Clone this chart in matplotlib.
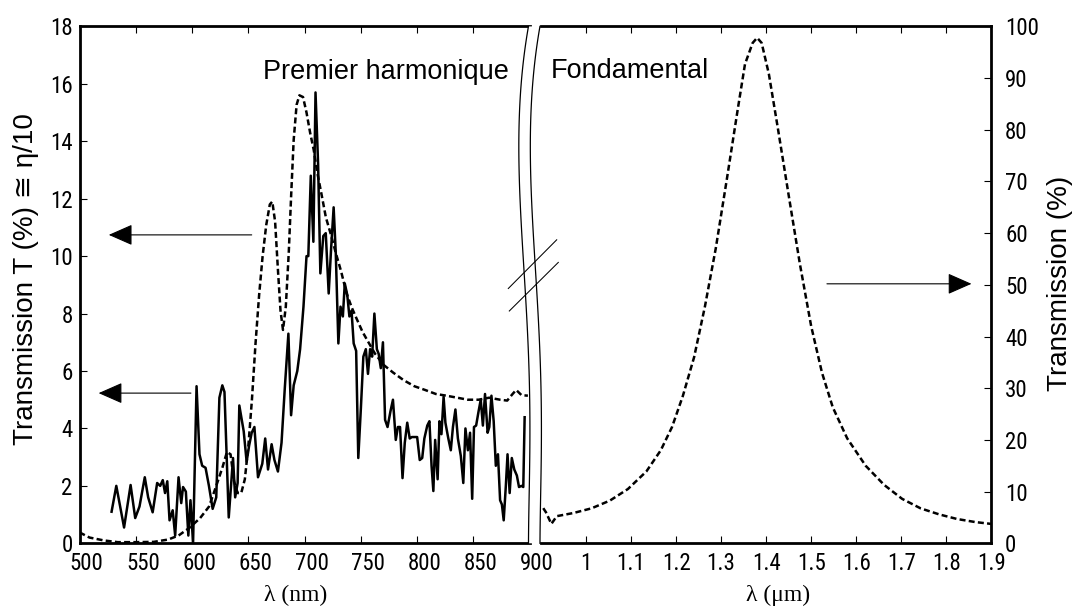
import numpy as np
import matplotlib
matplotlib.use('Agg')
import matplotlib.pyplot as plt
from matplotlib import font_manager
from matplotlib.lines import Line2D
from matplotlib.patches import Polygon
from matplotlib.transforms import ScaledTranslation

# Premier harmonique : mesure (trait plein)
harm_nm = [528.5, 532.7, 535.8, 539.6, 545.4, 549.5, 553.3, 558.0, 561.0, 565.0,
           569.0, 571.7, 574.0, 576.0, 578.0, 580.0, 582.8, 585.0, 588.0, 590.4,
           592.0, 594.5, 596.7, 598.6, 600.9, 604.0, 606.6, 609.0, 612.0, 615.0,
           618.3, 621.5, 624.3, 626.9, 628.8, 632.6, 636.4, 638.3, 640.5, 642.0,
           645.9, 648.5, 650.7, 653.0, 655.4, 658.6, 662.4, 665.0, 667.5, 670.7,
           673.2, 676.3, 679.5, 682.4, 685.6, 688.0, 690.3, 693.5, 696.0, 699.0,
           701.7, 703.3, 705.5, 707.8, 709.7, 712.0, 714.0, 716.6, 718.8, 721.4,
           723.6, 725.8, 727.7, 730.0, 731.9, 734.0, 735.7, 737.9, 739.8, 741.7,
           743.6, 745.8, 747.7, 750.0, 752.2, 754.4, 756.3, 758.2, 760.0, 762.0,
           764.2, 765.8, 767.7, 769.6, 771.5, 773.7, 776.3, 778.5, 781.0, 782.9,
           784.8, 787.0, 789.0, 791.2, 793.4, 795.3, 797.5, 800.0, 802.3, 804.5,
           806.4, 809.0, 810.9, 812.8, 814.4, 816.0, 818.2, 819.8, 821.6, 823.5,
           825.1, 827.7, 829.9, 831.8, 834.0, 836.2, 838.8, 841.0, 842.9, 845.1,
           847.0, 848.9, 850.5, 852.4, 854.6, 856.5, 858.4, 860.3, 862.6, 864.1,
           866.0, 868.0, 869.9, 871.8, 873.7, 875.3, 876.9, 878.8, 880.3, 882.2,
           884.1, 886.3, 888.6, 890.5, 892.7, 894.3, 895.5]
harm_T = [1.1, 2.0, 1.35, 0.55, 2.03, 0.88, 1.28, 2.3, 1.6, 1.08,
          2.1, 2.0, 2.2, 1.75, 2.16, 0.8, 1.15, 0.27, 2.3, 1.4,
          1.96, 1.8, 0.27, 1.5, 0.0, 5.47, 3.1, 2.7, 2.63, 2.0,
          1.2, 1.6, 5.07, 5.5, 5.27, 0.9, 2.97, 1.6, 2.1, 4.8,
          3.9, 2.84, 3.4, 3.85, 4.05, 2.3, 2.77, 3.65, 2.57, 3.45,
          2.9, 2.5, 3.5, 5.4, 7.3, 4.46, 5.5, 6.0, 6.76, 8.24,
          10.0, 10.0, 12.8, 10.5, 15.7, 13.2, 9.4, 10.7, 10.8, 8.7,
          10.3, 11.7, 10.1, 6.96, 8.24, 7.9, 9.05, 8.65, 7.9, 8.1,
          6.96, 6.7, 2.97, 4.7, 6.5, 6.76, 5.9, 6.76, 6.5, 8.0,
          6.76, 6.6, 6.1, 7.0, 4.3, 4.05, 4.6, 5.0, 3.6, 4.05,
          4.05, 2.27, 3.5, 4.2, 3.65, 3.7, 3.7, 3.7, 2.9, 2.97,
          3.65, 4.1, 4.25, 2.7, 1.82, 3.6, 2.23, 4.25, 3.8, 5.1,
          4.2, 3.65, 3.24, 4.05, 4.66, 3.65, 3.04, 2.1, 4.0, 3.24,
          3.85, 1.55, 4.05, 4.1, 4.6, 5.0, 4.1, 5.2, 3.85, 4.05,
          5.14, 4.25, 2.7, 3.1, 1.5, 1.35, 0.8, 2.0, 3.1, 1.75,
          2.97, 2.57, 2.36, 1.96, 2.0, 1.96, 4.39]

# Premier harmonique : calcul (pointillés)
calc_nm = [500, 508.9, 521.6, 534, 550, 566, 578.7, 588, 597.7, 607.2,
           615.1, 621.5, 627, 631, 634.2, 637.3, 640.5, 643.7, 646.9, 650,
           653.2, 656.4, 659.6, 662.7, 665.9, 669.1, 671.3, 673.8, 676.4, 678.6,
           680.8, 683.3, 685.9, 688.1, 690.3, 692.9, 695.4, 698.6, 701.7, 704.9,
           708.1, 711.3, 715, 718.9, 723, 727.8, 732.5, 737.3, 742, 746.8,
           751.5, 756.3, 762.6, 770.6, 778.5, 788, 797.5, 807, 816.6, 826,
           835.6, 845, 854.6, 864, 873.7, 880, 884.8, 888, 892.7, 898.4]
calc_T = [0.38, 0.2, 0.1, 0.04, 0.04, 0.05, 0.13, 0.27, 0.54, 0.88,
          1.28, 2.0, 2.64, 3.18, 3.1, 2.16, 1.75, 1.75, 2.23, 3.38,
          5.0, 6.96, 8.65, 10.0, 11.08, 11.8, 11.9, 11.2, 9.46, 8.1,
          7.43, 8.24, 10.1, 12.16, 14.05, 15.27, 15.6, 15.54, 15.0, 14.3,
          13.7, 12.9, 12.16, 11.35, 10.8, 10.1, 9.46, 8.7, 8.2, 7.77,
          7.36, 7.03, 6.6, 6.2, 5.95, 5.68, 5.47, 5.34, 5.2, 5.14,
          5.07, 5.0, 5.0, 5.07, 5.0, 4.97, 5.2, 5.34, 5.16, 5.14]

# Fondamental (pointillés)
fund_um = [0.905, 0.911, 0.923, 0.935, 0.972, 1.012, 1.053, 1.093, 1.134, 1.166,
           1.191, 1.215, 1.24, 1.264, 1.288, 1.313, 1.337, 1.353, 1.37, 1.38,
           1.39, 1.406, 1.426, 1.451, 1.475, 1.5, 1.524, 1.548, 1.58, 1.621,
           1.662, 1.702, 1.743, 1.784, 1.824, 1.865, 1.9]
fund_T = [6.8, 6.0, 3.75, 5.25, 5.86, 6.76, 8.26, 10.5, 13.9, 18.0,
          22.5, 28.5, 36.0, 45.8, 57.0, 70.6, 84.0, 92.7, 96.8, 97.8,
          96.8, 90.8, 80.3, 66.8, 54.0, 42.0, 33.0, 26.3, 20.3, 15.0,
          11.3, 8.6, 6.76, 5.6, 4.7, 4.1, 3.75]

nm_ticks = [500, 550, 600, 650, 700, 750, 800, 850, 900]
um_ticks = [1.0, 1.1, 1.2, 1.3, 1.4, 1.5, 1.6, 1.7, 1.8, 1.9]
um_labels = ['1', '1.1', '1.2', '1.3', '1.4', '1.5', '1.6', '1.7', '1.8', '1.9']

names = {f.name for f in font_manager.fontManager.ttflist}
tick_font, tick_size = 'Liberation Sans', 15
for cand in ['Liberation Sans Narrow', 'Roboto Condensed', 'Open Sans Condensed']:
    if cand in names:
        tick_font, tick_size = cand, 16.5
        break
sans = ['Liberation Sans', 'DejaVu Sans']

W, H = 1073, 608
fig = plt.figure(figsize=(W / 100, H / 100), dpi=100)


def fx(px):
    return px / W


def fy(py):
    return 1 - py / H


top, bot = 26.4, 543.3
ax1 = fig.add_axes([fx(79.5), fy(bot), (529.7 - 79.5) / W, (bot - top) / H])
ax2 = fig.add_axes([fx(541), fy(bot), (991.3 - 541) / W, (bot - top) / H])

ax1.plot(calc_nm, calc_T, color='k', lw=1.8, dashes=(2.4, 1.3))
ax1.plot(harm_nm, harm_T, color='k', lw=1.8)
ax2.plot(fund_um, fund_T, color='k', lw=1.8, dashes=(2.4, 1.3))

ax1.set_xlim(500, 900)
ax1.set_ylim(0, 18)
ax2.set_xlim(0.9, 1.9)
ax2.set_ylim(0, 100)

for ax in (ax1, ax2):
    for s in ax.spines.values():
        s.set_linewidth(2)
ax1.spines['right'].set_visible(False)
ax2.spines['left'].set_visible(False)

ax1.set_xticks(nm_ticks)
ax1.set_yticks(range(0, 19, 2))
ax2.set_xticks(um_ticks)
ax2.set_xticklabels(um_labels)
ax2.set_yticks(range(0, 101, 10))

ax1.tick_params(direction='in', top=True, right=False, length=5, width=0.8,
                labelsize=tick_size, pad=6)
ax1.tick_params(axis='y', pad=5)
ax2.yaxis.tick_right()
ax2.tick_params(direction='in', top=True, left=False, right=True, length=5,
                width=0.8, labelsize=tick_size, pad=6)
ax2.tick_params(axis='y', pad=10)
for ax in (ax1, ax2):
    for lab in ax.get_xticklabels() + ax.get_yticklabels():
        lab.set_fontfamily(tick_font)

shift = ScaledTranslation(0.07, 0, fig.dpi_scale_trans)
for lab in ax1.get_xticklabels():
    lab.set_transform(lab.get_transform() + shift)

# fleches
arrow = dict(arrowstyle='-|>,head_length=0.5,head_width=0.22', mutation_scale=30,
             lw=0.8, color='k', shrinkA=0, shrinkB=0)
ax1.annotate('', xy=(517, 5.23), xytext=(599, 5.23), arrowprops=arrow)
ax1.annotate('', xy=(526, 10.74), xytext=(653, 10.74), arrowprops=arrow)
ax2.annotate('', xy=(1.856, 50.2), xytext=(1.535, 50.2), arrowprops=arrow)

ax1.text(662.6, 16.4, 'Premier harmonique', fontsize=19.5, family=sans,
         ha='left', va='center')
ax2.text(0.921, 91.3, 'Fondamental', fontsize=19.5, family=sans,
         ha='left', va='center')

fig.text(fx(26), fy(279), 'Transmission T (%) \u2245 \u03b7/10', rotation=90,
         fontsize=20, family=sans, ha='center', va='center')
fig.text(fx(1060), fy(283), 'Transmission (%)', rotation=90,
         fontsize=20, family=sans, ha='center', va='center')
fig.text(fx(295.7), fy(595), '\u03bb (nm)', fontsize=17,
         family=['Liberation Serif', 'DejaVu Serif'], ha='center', va='center')
fig.text(fx(778), fy(595), '\u03bb (\u03bcm)', fontsize=17,
         family=['Liberation Serif', 'DejaVu Serif'], ha='center', va='center')

# coupure de l'axe
t = np.linspace(0, 1, 120)
ct = [0, 0.1, 0.22, 0.35, 0.5, 0.62, 0.8, 1]
co = [0, -7, -9.5, -8, -4, 0, 1.3, 0]
off = np.polyval(np.polyfit(ct, co, 5), t)
yy = top + t * (bot - top)
xl = 528.5 + off
xr = 540 + off
pts = np.column_stack([np.r_[fx(xl), fx(xr[::-1])], np.r_[fy(yy), fy(yy[::-1])]])
fig.add_artist(Polygon(pts, closed=True, facecolor='white', edgecolor='none',
                       transform=fig.transFigure, zorder=5))
for xs in (xl, xr):
    fig.add_artist(Line2D(fx(xs), fy(yy), color='k', lw=0.9,
                          transform=fig.transFigure, zorder=6))
for (x0, y0, x1, y1) in [(508.3, 288.5, 556.7, 239.8), (509.3, 311, 558.3, 262.4)]:
    fig.add_artist(Line2D([fx(x0), fx(x1)], [fy(y0), fy(y1)], color='k', lw=0.75,
                          transform=fig.transFigure, zorder=7))

fig.savefig('out.png', dpi=100)
